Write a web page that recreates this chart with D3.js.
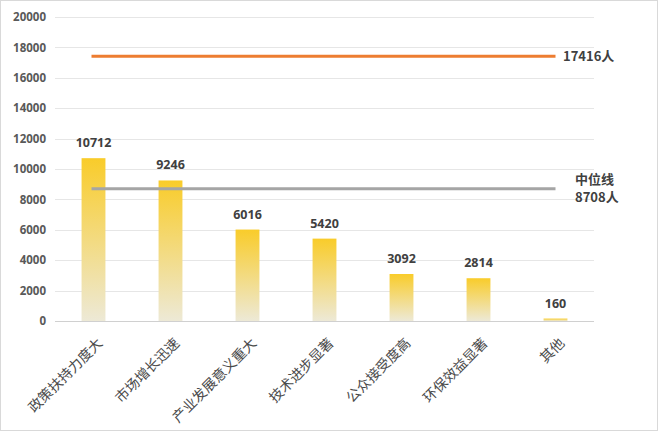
<!DOCTYPE html>
<html><head><meta charset="utf-8">
<script src="https://cdn.jsdelivr.net/npm/d3@7"></script>
<style>body{margin:0;background:#fff}svg{display:block}</style>
</head><body>
<svg id="c" width="660" height="432"></svg>
<script>
const categories = ["政策扶持力度大","市场增长迅速","产业发展意义重大","技术进步显著","公众接受度高","环保效益显著","其他"];
const values = [10712, 9246, 6016, 5420, 3092, 2814, 160];
const yTicks = [0,2000,4000,6000,8000,10000,12000,14000,16000,18000,20000];
const totalLine = 17416;
const totalLabel = "17416人";
const medianLine = 8708;
const medianLabel = ["中位线","8708人"];

const svg = d3.select("#c");
svg.append("rect").attr("x",0.5).attr("y",0.5).attr("width",657).attr("height",430)
  .attr("fill","#fff").attr("stroke","#d9d9d9");

const x = d3.scaleBand().domain(categories).range([55,594]).paddingInner(0.69).paddingOuter(0.345);
const y = d3.scaleLinear().domain([0,20000]).range([321,17]);

const defs = svg.append("defs");
const g = defs.append("linearGradient").attr("id","bg").attr("x1",0).attr("y1",0).attr("x2",0).attr("y2",1);
g.append("stop").attr("offset","0%").attr("stop-color","#f9cc2a");
g.append("stop").attr("offset","100%").attr("stop-color","#ede9d6");

// grid
svg.append("g").selectAll("line").data(yTicks).join("line")
  .attr("x1",55).attr("x2",594).attr("y1",d=>Math.round(y(d))+0.5).attr("y2",d=>Math.round(y(d))+0.5)
  .attr("stroke",d=>d===0?"#d0d0d0":"#e6e6e6").attr("stroke-width",1);

// y axis labels
const yAxis = d3.axisLeft(y).tickValues(yTicks).tickFormat(d3.format("d")).tickSize(0).tickPadding(0);
const ya = svg.append("g").attr("transform","translate(46,0)").call(yAxis);
ya.select(".domain").remove();
ya.selectAll("text").attr("font-family","Open Sans, Noto Sans, sans-serif").attr("font-size",11.5)
  .attr("font-weight","bold").attr("fill","#595959");

// bars
svg.append("g").selectAll("rect").data(values).join("rect")
  .attr("x",(d,i)=>x(categories[i])).attr("width",x.bandwidth())
  .attr("y",d=>y(d)).attr("height",d=>y(0)-y(d)).attr("fill","url(#bg)");

// value labels
svg.append("g").selectAll("text").data(values).join("text")
  .attr("x",(d,i)=>x(categories[i])+x.bandwidth()/2).attr("y",d=>y(d)-11)
  .attr("text-anchor","middle").attr("font-family","Open Sans, Noto Sans, sans-serif")
  .attr("font-size",12.5).attr("font-weight","bold").attr("fill","#404040").text(d=>d);

// x labels
const xAxis = d3.axisBottom(x).tickSize(0).tickPadding(0);
const xa = svg.append("g").attr("transform","translate(0,321)").call(xAxis);
xa.select(".domain").remove();
xa.selectAll("text").attr("font-family","Noto Sans CJK SC, sans-serif").attr("font-size",14)
  .attr("fill","#4a4a4a").attr("text-anchor","end").attr("dy",0)
  .attr("transform","translate(10,23) rotate(-45)");

// reference lines
const x0 = x(categories[0])+x.bandwidth()/2-2, x1 = x(categories[6])+x.bandwidth()/2;
svg.append("line").attr("x1",x0).attr("x2",x1).attr("y1",y(totalLine)).attr("y2",y(totalLine))
  .attr("stroke","#ed7d31").attr("stroke-width",3);
svg.append("line").attr("x1",x0).attr("x2",x1).attr("y1",y(medianLine)).attr("y2",y(medianLine))
  .attr("stroke","#a5a5a5").attr("stroke-width",3);

svg.append("text").attr("x",563).attr("y",y(totalLine)+5).attr("font-family","Noto Sans CJK SC, serif")
  .attr("font-size",13).attr("font-weight","bold").attr("fill","#404040").text(totalLabel);
svg.append("text").attr("x",575).attr("y",y(medianLine)-5).attr("font-family","Noto Sans CJK SC, serif")
  .attr("font-size",13).attr("font-weight","bold").attr("fill","#404040").text(medianLabel[0]);
svg.append("text").attr("x",575).attr("y",y(medianLine)+13).attr("font-family","Noto Sans CJK SC, serif")
  .attr("font-size",13).attr("font-weight","bold").attr("fill","#404040").text(medianLabel[1]);
</script>
</body></html>
